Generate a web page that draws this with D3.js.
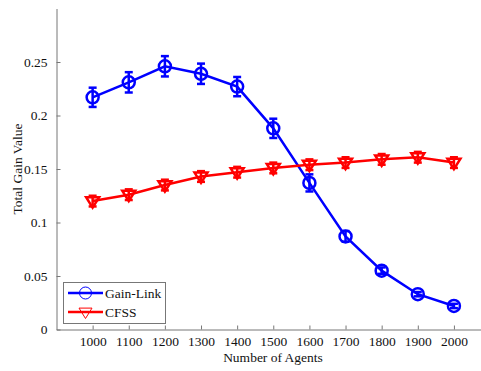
<!DOCTYPE html>
<html>
<head>
<meta charset="utf-8">
<script src="https://cdn.jsdelivr.net/npm/d3@7"></script>
<style>
  html, body { margin: 0; padding: 0; background: #fff; }
  svg { display: block; }
</style>
</head>
<body>
<svg id="chart" width="481" height="371"></svg>
<script>
// Number of agents on the x axis
const agents = [1000, 1100, 1200, 1300, 1400, 1500, 1600, 1700, 1800, 1900, 2000];

// Gain-Link: mean total gain and error half-width
const gainLink    = [0.217, 0.231, 0.246, 0.239, 0.227, 0.188, 0.137, 0.087, 0.055, 0.033, 0.022];
const gainLinkErr = [0.009, 0.0095, 0.0095, 0.0095, 0.009, 0.009, 0.008, 0.005, 0.003, 0.002, 0.002];

// CFSS: mean total gain and error half-width
const cfss    = [0.120, 0.126, 0.135, 0.143, 0.147, 0.151, 0.154, 0.156, 0.159, 0.161, 0.156];
const cfssErr = [0.005, 0.005, 0.005, 0.005, 0.005, 0.005, 0.005, 0.005, 0.005, 0.005, 0.005];

const yTicks = [0, 0.05, 0.1, 0.15, 0.2, 0.25];
const yTickLabels = ["0", "0.05", "0.1", "0.15", "0.2", "0.25"];

const series = [
  { name: "Gain-Link", values: gainLink, errors: gainLinkErr, color: "#0000ff", marker: "circle" },
  { name: "CFSS",      values: cfss,     errors: cfssErr,     color: "#ff0000", marker: "triangle" }
];

const FONT = "Liberation Serif, DejaVu Serif, serif";
const TEXT_COLOR = "#111";

const svg = d3.select("#chart");
const plotLeft = 56.5, plotBottom = 329.5, plotTop = 8.5;

const x = d3.scaleLinear().domain([900, 2100]).range([plotLeft, plotLeft + 12 * 36.13]);
const y = d3.scaleLinear().domain([0, 0.3]).range([plotBottom, plotTop]);

const axisColor = "#777";

// Axes (left and bottom only, ticks pointing inward)
const xAxis = svg.append("g")
  .attr("transform", `translate(0,${plotBottom})`)
  .call(d3.axisBottom(x).tickValues(agents).tickSizeInner(-4).tickSizeOuter(0).tickPadding(7).tickFormat(d3.format("d")));
const yAxis = svg.append("g")
  .attr("transform", `translate(${plotLeft},0)`)
  .call(d3.axisLeft(y).tickValues(yTicks).tickSizeInner(-4).tickSizeOuter(0).tickPadding(9)
    .tickFormat((d, i) => yTickLabels[i]));

[xAxis, yAxis].forEach(g => {
  g.attr("font-family", FONT).attr("font-size", 13.5);
  g.select(".domain").attr("stroke", axisColor).attr("stroke-width", 1);
  g.selectAll(".tick line").attr("stroke", axisColor);
  g.selectAll(".tick text").attr("fill", TEXT_COLOR);
});

// Axis titles
svg.append("text")
  .attr("x", 273).attr("y", 362)
  .attr("text-anchor", "middle")
  .attr("font-family", FONT).attr("font-size", 13.5).attr("fill", TEXT_COLOR)
  .text("Number of Agents");
svg.append("text")
  .attr("transform", "translate(22,169) rotate(-90)")
  .attr("text-anchor", "middle")
  .attr("font-family", FONT).attr("font-size", 13.5).attr("fill", TEXT_COLOR)
  .text("Total Gain Value");

const line = d3.line().x((d, i) => x(agents[i])).y(d => y(d));

function drawMarker(g, type, cx, cy, color, sw) {
  if (type === "circle") {
    g.append("circle").attr("cx", cx).attr("cy", cy).attr("r", 6)
      .attr("fill", "none").attr("stroke", color).attr("stroke-width", sw);
  } else {
    const s = 6.5;
    g.append("path")
      .attr("d", `M${cx - s},${cy - s * 0.6}L${cx + s},${cy - s * 0.6}L${cx},${cy + s}Z`)
      .attr("fill", "none").attr("stroke", color).attr("stroke-width", sw);
  }
}

series.forEach(s => {
  const g = svg.append("g");
  g.append("path")
    .datum(s.values)
    .attr("d", line)
    .attr("fill", "none")
    .attr("stroke", s.color)
    .attr("stroke-width", 2.5);

  s.values.forEach((v, i) => {
    const cx = x(agents[i]);
    const y0 = y(v - s.errors[i]);
    const y1 = y(v + s.errors[i]);
    const cap = 4;
    g.append("line").attr("x1", cx).attr("x2", cx).attr("y1", y0).attr("y2", y1)
      .attr("stroke", s.color).attr("stroke-width", 2.5);
    g.append("line").attr("x1", cx - cap).attr("x2", cx + cap).attr("y1", y0).attr("y2", y0)
      .attr("stroke", s.color).attr("stroke-width", 2.5);
    g.append("line").attr("x1", cx - cap).attr("x2", cx + cap).attr("y1", y1).attr("y2", y1)
      .attr("stroke", s.color).attr("stroke-width", 2.5);
    drawMarker(g, s.marker, cx, y(v), s.color, 2.5);
  });
});

// Legend
const lg = svg.append("g");
lg.append("rect").attr("x", 63.5).attr("y", 282.5).attr("width", 102).attr("height", 41)
  .attr("fill", "#fff").attr("stroke", axisColor).attr("stroke-width", 1);
series.forEach((s, i) => {
  const ly = 293 + i * 19;
  lg.append("line").attr("x1", 68).attr("x2", 103).attr("y1", ly).attr("y2", ly)
    .attr("stroke", s.color).attr("stroke-width", 2.5);
  drawMarker(lg, s.marker, 85.5, ly, s.color, 1);
  lg.append("text").attr("x", 105).attr("y", ly + 5)
    .attr("font-family", FONT).attr("font-size", 13.5).attr("fill", TEXT_COLOR)
    .text(s.name);
});
</script>
</body>
</html>
